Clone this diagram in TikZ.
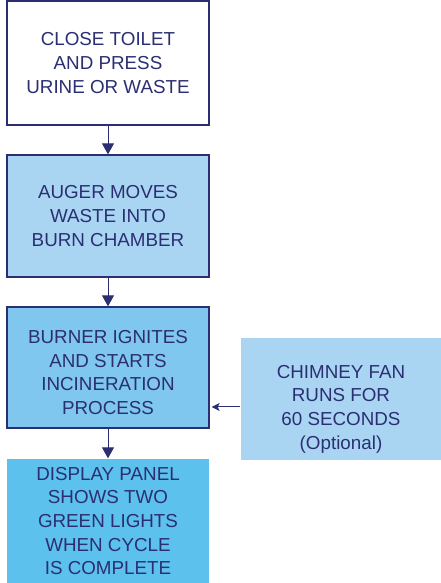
\documentclass[tikz,border=0pt]{standalone}
\usepackage{fontspec}
\setmainfont{Liberation Sans}
\usetikzlibrary{arrows.meta,calc}

\definecolor{navy}{HTML}{2B2F72}
\definecolor{paleblue}{HTML}{A9D5F3}
\definecolor{midblue}{HTML}{7FC7EF}
\definecolor{deepblue}{HTML}{5CC1EC}

\begin{document}
\begin{tikzpicture}[x=1pt,y=1pt,
		stepbox/.style={draw=navy,line width=1.3pt,minimum width=202pt,minimum height=122pt,
			inner sep=0pt,align=center,text=navy,font=\fontsize{18.8}{23.7}\selectfont},
		flat/.style={stepbox,draw=none},
		steptext/.style={text=navy,align=center,font=\fontsize{18.8}{23.7}\selectfont},
		flow/.style={navy,line width=1pt,-{Triangle[length=11pt,width=12pt]}},
		side/.style={navy,line width=1pt,-{Stealth[length=8pt,width=8pt,inset=2pt]}}]

			%page frame
			\useasboundingbox (0,0) rectangle (441,583);

			%main column of steps
			\node[stepbox,fill=white,minimum height=124pt] (close) at (108,520) {CLOSE TOILET\\AND PRESS\\URINE OR WASTE};
			\node[stepbox,fill=paleblue] (auger) at (108,367) {AUGER MOVES\\WASTE INTO\\BURN CHAMBER};
			\node[stepbox,fill=midblue,minimum height=121pt] (burner) at (108,215.5) {};
			\node[steptext] (burnertext) at (108,210.5) {BURNER IGNITES\\AND STARTS\\INCINERATION\\PROCESS};
			\node[flat,fill=deepblue,minimum height=124pt] (display) at (108,62) {DISPLAY PANEL\\SHOWS TWO\\GREEN LIGHTS\\WHEN CYCLE\\IS COMPLETE};

			%optional side step
			\node[flat,fill=paleblue,minimum width=200pt] (fan) at (341,184) {};
			\node[steptext] (fantext) at (341,174) {CHIMNEY FAN\\RUNS FOR\\60 SECONDS\\(Optional)};
			\coordinate (fanout) at ($(fan.west)+(0,-8)$);

			%connectors
			\draw[flow] (close) -- (auger);
			\draw[flow] (auger) -- (burner);
			\draw[flow] (burner) -- (display);
			\draw[side] (fanout) -- ($(burner.east |- fanout)+(2,0)$);

\end{tikzpicture}
\end{document}
